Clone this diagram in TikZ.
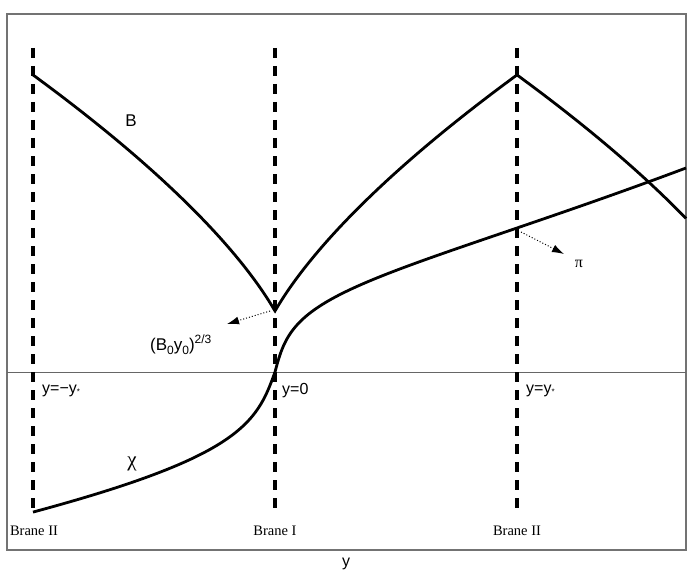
\documentclass[tikz,border=0pt]{standalone}
\usepackage{fontspec}
\setmainfont{Liberation Serif}
\newfontfamily\hv{Liberation Sans}
\usetikzlibrary{arrows.meta}
\begin{document}
\begin{tikzpicture}[x=1pt,y=-1pt,
  frameline/.style={draw=black!55, line width=1.2pt},
  brane/.style={line width=4.5pt, dash pattern=on 10pt off 8pt},
  curve/.style={line width=2.8pt, line join=miter},
  ptr/.style={dotted, line width=1pt, -{Latex[length=12pt,width=8pt]}},
  lab/.style={font=\hv\fontsize{16}{18}\selectfont, inner sep=0pt},
  branelab/.style={font=\fontsize{14.5}{16}\selectfont, inner sep=0pt}]
\useasboundingbox (0,0) rectangle (692,572);
% frame and axis
\draw[frameline] (7,14) rectangle (686,550);
\coordinate (axL) at (7,372);
\coordinate (axR) at (686,372);
\draw[draw=black!60, line width=1pt] (axL) -- (axR);
% branes
\coordinate (b1t) at (33,48);  \coordinate (b1b) at (33,515);
\coordinate (b2t) at (275,48); \coordinate (b2b) at (275,515);
\coordinate (b3t) at (517,48); \coordinate (b3b) at (517,515);
\draw[brane] (b1t) -- (b1b);
\draw[brane] (b2t) -- (b2b);
\draw[brane] (b3t) -- (b3b);
% B curve
\draw[curve] plot[domain=33:275, samples=80, smooth] ({\x}, {311-236*(pow(275-\x+20,2/3)-7.368)/33.56})
  -- plot[domain=275:517, samples=80, smooth] ({\x}, {311-236*(pow(\x-275+20,2/3)-7.368)/33.56})
  -- plot[domain=517:686, samples=60, smooth] ({\x}, {311-236*(pow(759-\x+20,2/3)-7.368)/33.56});
% chi curve
\draw[curve] plot[domain=-242:0, samples=122, smooth] ({275+\x}, {372+26*ln(-\x/10+sqrt((\x/10)^2+1))-0.162*\x})
  -- plot[domain=0:411, samples=206, smooth] ({275+\x}, {372-21.69*ln(\x/6+sqrt((\x/6)^2+1))-0.1513*\x-2.078*(\x/100)^2});
% pointers
\coordinate (cusp) at (270,311);
\coordinate (cuspTip) at (227,324);
\draw[ptr] (cusp) -- (cuspTip);
\coordinate (chiB) at (521,232);
\coordinate (chiTip) at (564,254);
\draw[ptr] (chiB) -- (chiTip);
% labels
\node[lab, font=\hv\fontsize{17}{18}\selectfont] (Blab) at (131,121) {B};
\node[lab, font=\fontsize{21}{21}\selectfont] (chilab) at (132,464) {χ};
\node[lab, font=\fontsize{16}{16}\selectfont] (pilab) at (579,264) {π};
\node[lab, anchor=base west, font=\hv\fontsize{17}{18}\selectfont] (b0lab) at (150,350)
  {(B\raisebox{-4.5pt}{\fontsize{12}{12}\selectfont 0}y\raisebox{-4.5pt}{\fontsize{12}{12}\selectfont 0})\raisebox{7pt}{\fontsize{12}{12}\selectfont 2/3}};
\node[lab, anchor=west] (ym) at (42,391) {y=−y\raisebox{-1pt}{\fontsize{8}{8}\selectfont *}};
\node[lab, anchor=west] (y0) at (282,391) {y=0};
\node[lab, anchor=west] (yp) at (526,391) {y=y\raisebox{-1pt}{\fontsize{8}{8}\selectfont *}};
\node[lab] (ylab) at (346,564) {y};
\node[branelab] (br1) at (34,531) {Brane II};
\node[branelab] (br2) at (275,531) {Brane I};
\node[branelab] (br3) at (517,531) {Brane II};
\end{tikzpicture}
\end{document}
